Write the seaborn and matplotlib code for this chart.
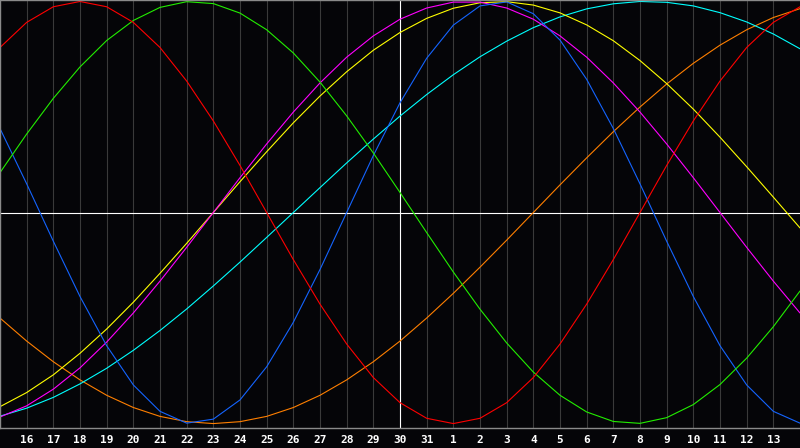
import pandas as pd
import matplotlib.pyplot as plt
import seaborn as sns

# dias del mes mostrados (del 15 al 14 del mes siguiente)
days = list(range(15, 32)) + list(range(1, 15))

# valores diarios de cada ciclo (-1 .. 1)
physical = [0.398, 0.136, -0.136, -0.398, -0.631, -0.817, -0.942, -0.998, -0.979, -0.888,
            -0.731, -0.520, -0.270, 0.0, 0.270, 0.520, 0.731, 0.888, 0.979, 0.998,
            0.942, 0.817, 0.631, 0.398, 0.136, -0.136, -0.398, -0.631, -0.817, -0.942, -0.998]
emotional = [0.782, 0.901, 0.975, 1.0, 0.975, 0.901, 0.782, 0.623, 0.434, 0.223,
             0.0, -0.223, -0.434, -0.623, -0.782, -0.901, -0.975, -1.0, -0.975, -0.901,
             -0.782, -0.623, -0.434, -0.223, 0.0, 0.223, 0.434, 0.623, 0.782, 0.901, 0.975]
intellectual = [0.189, 0.372, 0.541, 0.690, 0.815, 0.910, 0.972, 0.999, 0.990, 0.945,
                0.866, 0.756, 0.618, 0.458, 0.282, 0.095, -0.095, -0.282, -0.458, -0.618,
                -0.756, -0.866, -0.945, -0.990, -0.999, -0.972, -0.910, -0.815, -0.690, -0.541, -0.372]
intuitive = [-0.969, -0.916, -0.837, -0.736, -0.614, -0.476, -0.325, -0.165, 0.0, 0.165,
             0.325, 0.476, 0.614, 0.736, 0.837, 0.916, 0.969, 0.997, 0.997, 0.969,
             0.916, 0.837, 0.736, 0.614, 0.476, 0.325, 0.165, 0.0, -0.165, -0.325, -0.476]
aesthetic = [-0.920, -0.853, -0.769, -0.667, -0.552, -0.425, -0.288, -0.146, 0.0, 0.146,
             0.288, 0.425, 0.552, 0.667, 0.769, 0.853, 0.920, 0.968, 0.994, 0.999,
             0.983, 0.946, 0.889, 0.814, 0.720, 0.611, 0.490, 0.357, 0.217, 0.073, -0.073]
awareness = [-0.500, -0.609, -0.707, -0.793, -0.866, -0.924, -0.966, -0.991, -1.0, -0.991,
             -0.966, -0.924, -0.866, -0.793, -0.707, -0.609, -0.500, -0.383, -0.259, -0.131,
             0.0, 0.131, 0.259, 0.383, 0.500, 0.609, 0.707, 0.793, 0.866, 0.924, 0.966]
spiritual = [-0.965, -0.927, -0.876, -0.812, -0.738, -0.653, -0.559, -0.457, -0.348, -0.235,
             -0.118, 0.0, 0.118, 0.235, 0.348, 0.457, 0.559, 0.653, 0.738, 0.812,
             0.876, 0.927, 0.965, 0.989, 1.0, 0.996, 0.979, 0.947, 0.903, 0.846, 0.776]

cycles = {
    'awareness': awareness,
    'spiritual': spiritual,
    'aesthetic': aesthetic,
    'intuitive': intuitive,
    'physical': physical,
    'intellectual': intellectual,
    'emotional': emotional,
}
colors = {
    'physical': '#1464ff',
    'emotional': '#ff0000',
    'intellectual': '#22ee00',
    'intuitive': '#ff00ff',
    'aesthetic': '#ffff00',
    'awareness': '#ff7f00',
    'spiritual': '#00ffff',
}

rows = []
for name, vals in cycles.items():
    for pos, v in enumerate(vals):
        rows.append({'pos': pos, 'valor': v, 'ciclo': name})
df = pd.DataFrame(rows)

sns.set_theme(style="dark")
bg = '#050508'
fig = plt.figure(figsize=(8, 4.48), dpi=100, facecolor=bg)
ax = fig.add_axes([0, 20 / 448, 1, 428 / 448])
ax.set_facecolor(bg)

sns.lineplot(data=df, x='pos', y='valor', hue='ciclo', palette=colors, legend=False,
             linewidth=0.8, ax=ax)

ticks = list(range(1, len(days) - 1))
ax.set_xticks(ticks)
ax.set_xticklabels([str(days[t]) for t in ticks], color='white', fontsize=8,
                   fontweight='bold', family=['DejaVu Sans Mono'])
ax.tick_params(axis='x', length=0, pad=5)
ax.set_yticks([])
ax.grid(axis='x', color='#3a3a3a', linewidth=0.8)
ax.grid(axis='y', visible=False)

ax.axhline(0, color='white', linewidth=0.8, zorder=1.8)
ax.axvline(days.index(30), color='white', linewidth=0.8, zorder=1.8)

ax.set_xlim(0, len(days) - 1)
ax.set_ylim(-1.021, 1.007)
ax.set_xlabel('')
ax.set_ylabel('')

for side in ['left', 'top', 'bottom']:
    ax.spines[side].set_visible(True)
    ax.spines[side].set_color('#8a8a8a')
    ax.spines[side].set_linewidth(1)
ax.spines['right'].set_visible(False)

plt.savefig('out.png', dpi=100, facecolor=bg)
